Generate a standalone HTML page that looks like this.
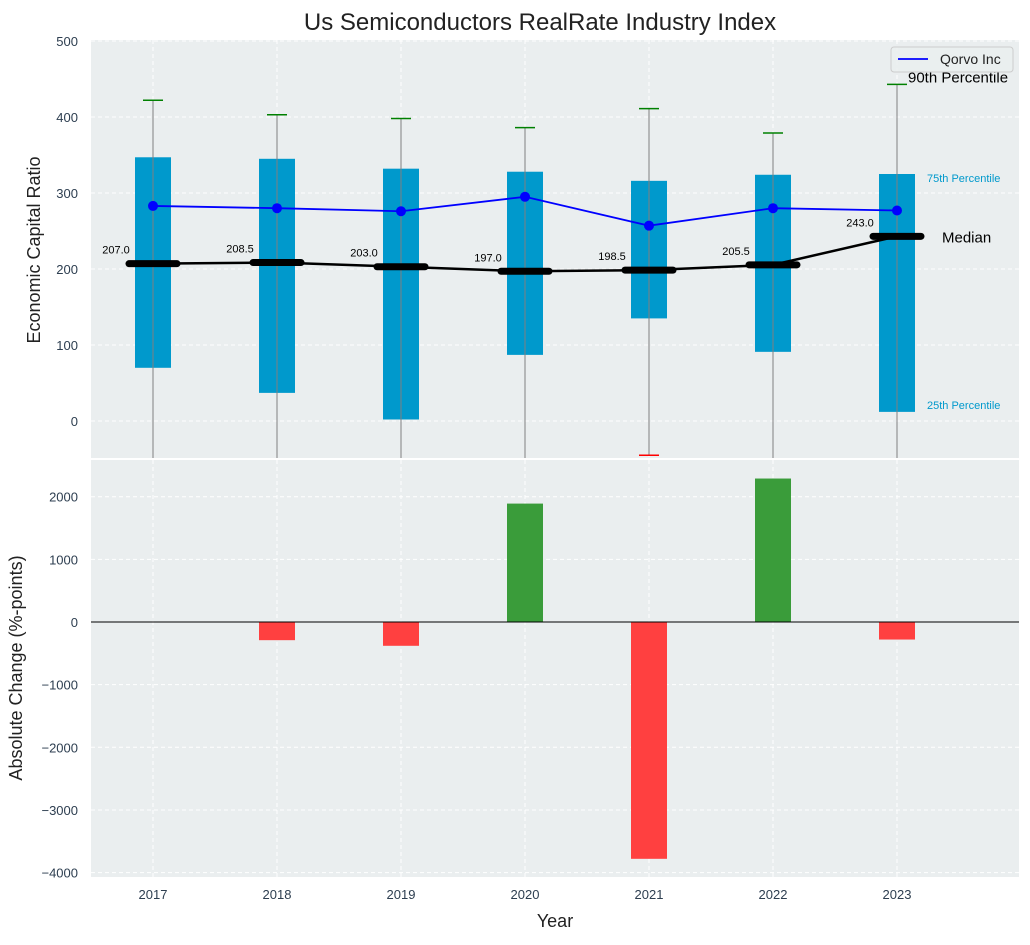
<!DOCTYPE html>
<html><head><meta charset="utf-8"><style>
body{margin:0;background:#fff;font-family:"Liberation Sans",sans-serif}
svg text{font-family:"Liberation Sans",sans-serif}
</style></head><body>
<svg id="chart" width="1030" height="940" xmlns="http://www.w3.org/2000/svg">
<text x="540" y="30" text-anchor="middle" font-size="24" fill="#222">Us Semiconductors RealRate Industry Index</text>
<g id="topPanel"></g>
<g id="botPanel"></g>
<text x="40" y="250" transform="rotate(-90 40 250)" text-anchor="middle" font-size="18" fill="#222">Economic Capital Ratio</text>
<text x="22" y="668" transform="rotate(-90 22 668)" text-anchor="middle" font-size="18" fill="#222">Absolute Change (%-points)</text>
<text x="555" y="927" text-anchor="middle" font-size="18" fill="#222">Year</text>
</svg>
<script>
const years=[2017,2018,2019,2020,2021,2022,2023];
const p25=[70,37,2,87,135,91,12];
const p75=[347,345,332,328,316,324,325];
const p90=[422,403,398,386,411,379,443];
const p10=[-120,-120,-120,-120,-45,-120,-120];
const medians=[207,208.5,203,197,198.5,205.5,243];
const qorvo=[283,280,276,295,257,280,277];
const changes=[0,-290,-380,1890,-3780,2290,-280];
const topTicks=[0,100,200,300,400,500];
const botTicks=[-4000,-3000,-2000,-1000,0,1000,2000];
const NS='http://www.w3.org/2000/svg';
const L=91,R=1019;
const TC='#2d3e50';
const xs=yr=>153+(yr-2017)*124;
const yt=v=>421-0.76*v;
const yb=v=>622-0.06265*v;
function mk(p,t,a){const el=document.createElementNS(NS,t);for(const k in a)el.setAttribute(k,a[k]);p.appendChild(el);return el;}
const topG=document.getElementById('topPanel'),botG=document.getElementById('botPanel');
const T0=40,T1=458,B0=460,B1=877;
let e;
e=mk(topG,'rect',{x:L,y:T0,width:R-L,height:T1-T0,fill:'#eaeeef'});

e=mk(botG,'rect',{x:L,y:B0,width:R-L,height:B1-B0,fill:'#eaeeef'});

const cp=mk(topG,'clipPath',{id:'ct'});mk(cp,'rect',{x:L,y:T0,width:R-L,height:T1-T0});
years.forEach(yr=>{
 e=mk(topG,'line',{x1:xs(yr),x2:xs(yr),y1:T0,y2:T1,stroke:'#fff','stroke-dasharray':'4 3'});
 
 e=mk(botG,'line',{x1:xs(yr),x2:xs(yr),y1:B0,y2:B1,stroke:'#fff','stroke-dasharray':'4 3'});
 
 e=mk(botG,'text',{x:xs(yr),y:899,'text-anchor':'middle','font-size':13,fill:TC});e.textContent=yr;
 
});
topTicks.forEach(v=>{
 e=mk(topG,'line',{x1:L,x2:R,y1:yt(v),y2:yt(v),stroke:'#fff','stroke-dasharray':'4 3'});
 
 e=mk(topG,'text',{x:78,y:yt(v)+5,'text-anchor':'end','font-size':13,fill:TC});e.textContent=v;
 
});
botTicks.forEach(v=>{
 e=mk(botG,'line',{x1:L,x2:R,y1:yb(v),y2:yb(v),stroke:'#fff','stroke-dasharray':'4 3'});
 
 e=mk(botG,'text',{x:78,y:yb(v)+5,'text-anchor':'end','font-size':13,fill:TC});e.textContent=(v<0?'\u2212'+(-v):v);
 
});
const g=mk(topG,'g',{'clip-path':'url(#ct)'});
years.forEach((yr,i)=>{
 e=mk(g,'rect',{x:xs(yr)-18,y:yt(p75[i]),width:36,height:yt(p25[i])-yt(p75[i]),fill:'#0099cc'});
 
 e=mk(g,'line',{x1:xs(yr),x2:xs(yr),y1:yt(p90[i]),y2:yt(p10[i]),stroke:'#808080','stroke-width':1});
 
 e=mk(g,'line',{x1:xs(yr)-10,x2:xs(yr)+10,y1:yt(p90[i]),y2:yt(p90[i]),stroke:'green','stroke-width':1.5});
 
 e=mk(g,'line',{x1:xs(yr)-10,x2:xs(yr)+10,y1:yt(p10[i]),y2:yt(p10[i]),stroke:'red','stroke-width':1.5});
 
});
e=mk(g,'polyline',{points:years.map((yr,i)=>xs(yr)+','+yt(medians[i])).join(' '),fill:'none',stroke:'#000','stroke-width':2.5});

years.forEach((yr,i)=>{
 e=mk(g,'line',{x1:xs(yr)-24,x2:xs(yr)+24,y1:yt(medians[i]),y2:yt(medians[i]),stroke:'#000','stroke-width':7,'stroke-linecap':'round'});
 
 e=mk(g,'text',{x:xs(yr)-37,y:yt(medians[i])-10,'text-anchor':'middle','font-size':11,fill:'#000'});e.textContent=medians[i].toFixed(1);
 
});
e=mk(g,'polyline',{points:years.map((yr,i)=>xs(yr)+','+yt(qorvo[i])).join(' '),fill:'none',stroke:'blue','stroke-width':1.8});

years.forEach((yr,i)=>{
 e=mk(g,'circle',{cx:xs(yr),cy:yt(qorvo[i]),r:5,fill:'blue'});
 
});
const lx=xs(2023);
e=mk(topG,'text',{x:lx+11,y:yt(p90[6])-2,'font-size':15,fill:'#000'});e.textContent='90th Percentile';

e=mk(topG,'text',{x:lx+30,y:yt(p75[6])+8,'font-size':11,fill:'#0099cc'});e.textContent='75th Percentile';

e=mk(topG,'text',{x:lx+30,y:yt(p25[6])-3,'font-size':11,fill:'#0099cc'});e.textContent='25th Percentile';

e=mk(topG,'text',{x:lx+45,y:yt(medians[6])+6,'font-size':15,fill:'#000'});e.textContent='Median';

const lg=mk(topG,'g',{});

mk(lg,'rect',{x:891,y:47,width:122,height:25,rx:3,fill:'#eaeeef','fill-opacity':0.85,stroke:'#ccc'});
mk(lg,'line',{x1:898,x2:928,y1:59,y2:59,stroke:'blue','stroke-width':1.8});
e=mk(lg,'text',{x:940,y:64,'font-size':14,fill:'#222'});e.textContent='Qorvo Inc';

years.forEach((yr,i)=>{
 const v=changes[i];if(v===0)return;
 e=mk(botG,'rect',{x:xs(yr)-18,y:Math.min(yb(0),yb(v)),width:36,height:Math.abs(yb(v)-yb(0)),fill:v>0?'#3a9c3a':'#ff4040'});
 
});
e=mk(botG,'line',{x1:L,x2:R,y1:yb(0),y2:yb(0),stroke:'#000','stroke-width':1});

</script>
</body></html>
